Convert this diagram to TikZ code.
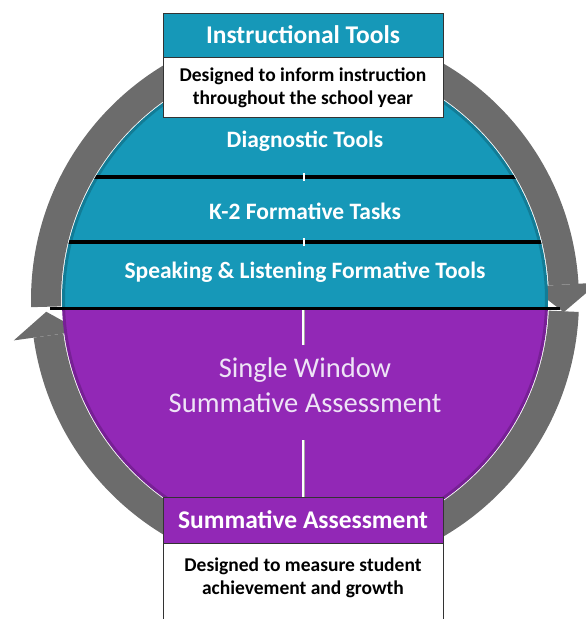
\documentclass[tikz,border=0pt]{standalone}
\usepackage{fontspec}
\setmainfont{Carlito}
\usetikzlibrary{positioning}
\definecolor{toolteal}{RGB}{22,152,184}
\definecolor{sumpurple}{RGB}{146,40,182}
\definecolor{ringgray}{RGB}{108,108,108}
\definecolor{paletext}{RGB}{238,228,246}

\begin{document}
\begin{tikzpicture}[x=1pt,y=1pt,
  boxline/.style={draw=black!80,line width=0.8pt},
  headtext/.style={text=white,font=\bfseries\fontsize{25.5}{28}\selectfont},
  bodytext/.style={text=black,align=center,font=\bfseries\fontsize{19.5}{23}\selectfont},
  bandtext/.style={text=white,font=\bfseries\fontsize{23.5}{28}\selectfont},
  splitline/.style={draw=white,double=black!35,double distance=0.6pt,line width=1.2pt}]
\useasboundingbox (-305,-319) rectangle (281,300);
% ring arrows
\fill[ringgray] (181.5:274) arc[start angle=181.5,end angle=3.4,radius=274] -- (3.4:244) arc[start angle=3.4,end angle=181.5,radius=244] -- cycle;
\fill[ringgray] (3.4:226) -- (-2.7:259) -- (3.4:294) -- cycle;
\fill[ringgray] (-2.5:274) arc[start angle=-2.5,end angle=-172.1,radius=274] -- (-172.1:244) arc[start angle=-172.1,end angle=-2.5,radius=244] -- cycle;
\fill[ringgray] (-172.1:226) -- (-177.4:259) -- (-172.1:294) -- cycle;
% disk
\begin{scope}
\clip (0,0) circle (243);
\fill[toolteal] (-243,-8) rectangle (243,243);
\fill[sumpurple] (-243,-8) rectangle (243,-243);
\draw[line width=4pt] (-243,123) -- (243,123);
\draw[line width=4pt] (-243,58) -- (243,58);
\draw[black,opacity=0.18,line width=3pt] (0,0) circle (241.5);
\end{scope}
\draw[line width=3pt] (-255,-8) -- (255,-8);
\draw[white,line width=1.5pt] (-1,119) -- (-1,127);
\draw[white,line width=1.5pt] (-1,54) -- (-1,62);
\draw[splitline] (-1,-10) -- (-1,-45);
\draw[splitline] (-1,-140) -- (-1,-197);
% band labels
\node[bandtext] (diag) at (0,159) {Diagnostic Tools};
\node[bandtext] (ktwo) at (0,89) {K-2 Formative Tasks};
\node[bandtext] (speak) at (0,28) {Speaking \& Listening Formative Tools};
\node[text=paletext,align=center,font=\fontsize{28.5}{35}\selectfont] (single) at (0,-85) {Single Window\\Summative Assessment};
% top box
\node[boxline,fill=toolteal,headtext,minimum width=280pt,minimum height=44pt,inner sep=0pt] (insthead) at (-2,265) {Instructional Tools};
\node[boxline,fill=white,bodytext,minimum width=280pt,minimum height=60pt,inner sep=0pt,below=0pt of insthead] (instbody) {Designed to inform instruction\\throughout the school year};
% bottom box
\draw[boxline,fill=white] (-142,-243) rectangle (138,-330);
\node[boxline,fill=sumpurple,headtext,minimum width=280pt,minimum height=46pt,inner sep=0pt] (sumhead) at (-2,-220) {Summative Assessment};
\node[bodytext] (sumbody) at (-2,-278) {Designed to measure student\\achievement and growth};
\end{tikzpicture}
\end{document}
